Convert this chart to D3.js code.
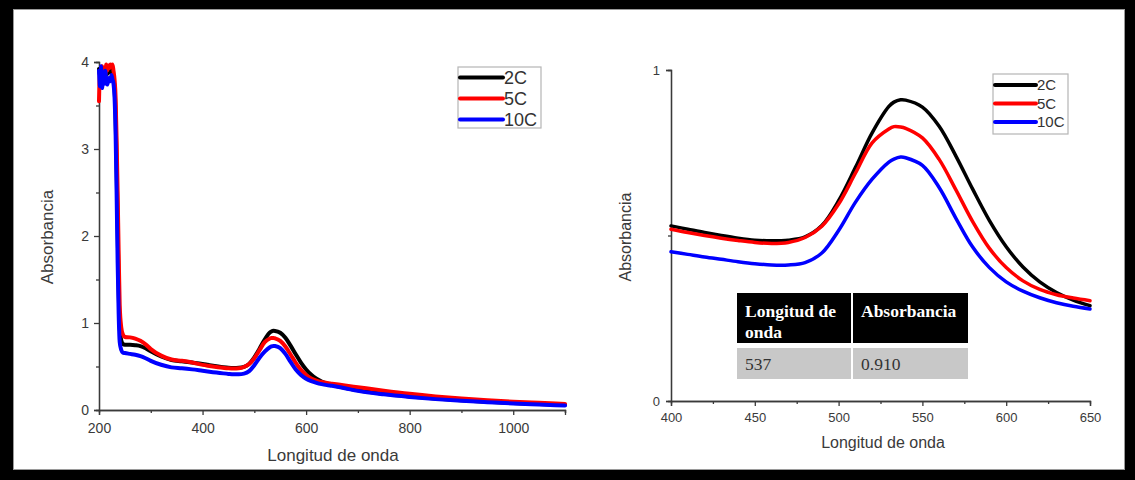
<!DOCTYPE html>
<html>
<head>
<meta charset="utf-8">
<script src="https://cdn.jsdelivr.net/npm/d3@7"></script>
<style>
  html, body { margin: 0; padding: 0; background: #000; }
  svg { display: block; }
</style>
</head>
<body>
<svg id="fig" width="1135" height="480"></svg>
<script>
// UV-Vis absorption spectra of the three samples
const wavelengths = [
  200, 202, 204, 206, 208, 210, 212, 214, 216, 218, 220, 222, 224, 226, 228, 230,
  232, 234, 236, 238, 240, 243, 246, 250, 260, 270, 280, 290, 300, 320, 340, 360, 380,
  400, 410, 420, 430, 440, 450, 460, 470, 480, 490, 500, 510, 520, 530, 533, 537, 540,
  550, 560, 570, 580, 590, 600, 610, 620, 630, 640, 650,
  675, 700, 750, 800, 850, 900, 950, 1000, 1050, 1100
];
const abs2C = [
  3.92, 3.85, 3.90, 3.82, 3.88, 3.90, 3.84, 3.90, 3.86, 3.92, 3.88, 3.90, 3.93, 3.85, 3.80, 3.70,
  3.40, 2.80, 2.10, 1.40, 0.95, 0.80, 0.76, 0.75, 0.75, 0.745, 0.735, 0.71, 0.675, 0.615, 0.575, 0.56, 0.545,
  0.529, 0.519, 0.509, 0.500, 0.492, 0.486, 0.484, 0.486, 0.496, 0.530, 0.605, 0.705, 0.810, 0.890, 0.903, 0.910, 0.909,
  0.888, 0.830, 0.740, 0.640, 0.545, 0.466, 0.405, 0.360, 0.328, 0.305, 0.288,
  0.255, 0.226, 0.186, 0.156, 0.131, 0.111, 0.095, 0.080, 0.069, 0.058
];
const abs5C = [
  3.55, 3.90, 3.75, 3.95, 3.80, 3.92, 3.85, 3.97, 3.90, 3.96, 3.93, 3.97, 3.95, 3.97, 3.90, 3.80,
  3.60, 3.10, 2.50, 1.80, 1.20, 0.95, 0.87, 0.84, 0.835, 0.82, 0.795, 0.755, 0.70, 0.625, 0.58, 0.565, 0.545,
  0.519, 0.509, 0.500, 0.492, 0.485, 0.479, 0.476, 0.479, 0.494, 0.528, 0.595, 0.688, 0.780, 0.822, 0.829, 0.828, 0.824,
  0.795, 0.730, 0.638, 0.542, 0.461, 0.403, 0.363, 0.337, 0.321, 0.311, 0.303,
  0.282, 0.262, 0.222, 0.186, 0.156, 0.131, 0.111, 0.095, 0.082, 0.070
];
const abs10C = [
  3.90, 3.72, 3.95, 3.70, 3.85, 3.75, 3.90, 3.78, 3.74, 3.80, 3.82, 3.78, 3.85, 3.80, 3.75, 3.60,
  3.20, 2.50, 1.70, 1.10, 0.78, 0.69, 0.66, 0.655, 0.645, 0.635, 0.62, 0.595, 0.565, 0.52, 0.49, 0.48, 0.467,
  0.451, 0.443, 0.435, 0.428, 0.421, 0.415, 0.411, 0.411, 0.418, 0.447, 0.515, 0.600, 0.670, 0.722, 0.731, 0.737, 0.735,
  0.712, 0.645, 0.552, 0.465, 0.403, 0.360, 0.332, 0.312, 0.297, 0.286, 0.278,
  0.25, 0.22, 0.18, 0.15, 0.125, 0.105, 0.09, 0.075, 0.063, 0.052
];
const seriesNames = ["2C", "5C", "10C"];
const seriesColors = ["#000000", "#ff0000", "#0000ff"];

// Tick values
const fullMajorX = [200, 400, 600, 800, 1000];
const fullMinorX = [300, 500, 700, 900, 1100];
const fullMajorY = [0, 1, 2, 3, 4];
const fullMinorY = [0.5, 1.5, 2.5, 3.5];
const zoomMajorX = [400, 450, 500, 550, 600, 650];
const zoomMinorX = [425, 475, 525, 575, 625];
const zoomMajorY = [0, 1];
const zoomMinorY = [0.5];

// Peak table
const tableHeader = ["Longitud de|onda", "Absorbancia"];
const peakWavelength = 537;
const peakAbsorbance = 0.910;

const xTitle = "Longitud de onda";
const yTitle = "Absorbancia";

const series = seriesNames.map((name, i) => ({
  name,
  color: seriesColors[i],
  values: wavelengths.map((w, j) => ({ w, a: [abs2C, abs5C, abs10C][i][j] }))
}));

const svg = d3.select("#fig");
const sans = "'Liberation Sans', Arial, sans-serif";
const serif = "'Liberation Serif', 'Times New Roman', serif";
const axisColor = "#3a3a3a";

// white panel inside the black frame
svg.append("rect")
  .attr("x", 13.5).attr("y", 9.5).attr("width", 1111).attr("height", 460)
  .attr("fill", "#fff").attr("stroke", "#9a9a9a").attr("stroke-width", 1);

function drawPanel(opt) {
  const g = svg.append("g");
  const x = d3.scaleLinear().domain(opt.xDomain).range(opt.xRange);
  const y = d3.scaleLinear().domain(opt.yDomain).range(opt.yRange);

  const styleAxis = sel => {
    sel.select(".domain").attr("stroke", axisColor).attr("stroke-width", 1.3);
    sel.selectAll(".tick line").attr("stroke", axisColor).attr("stroke-width", 1.3);
    sel.selectAll("text").attr("fill", axisColor).attr("font-family", sans)
      .attr("font-size", opt.tickFont);
  };

  // minor ticks
  g.append("g").attr("transform", `translate(0,${opt.yRange[0]})`)
    .call(d3.axisBottom(x).tickValues(opt.minorX).tickSize(3).tickFormat(""))
    .call(styleAxis);
  g.append("g").attr("transform", `translate(${opt.xRange[0]},0)`)
    .call(d3.axisLeft(y).tickValues(opt.minorY).tickSize(3).tickFormat(""))
    .call(styleAxis);
  // major ticks
  g.append("g").attr("transform", `translate(0,${opt.yRange[0]})`)
    .call(d3.axisBottom(x).tickValues(opt.majorX).tickSize(5).tickPadding(opt.xPad).tickFormat(d3.format("d")))
    .call(styleAxis);
  g.append("g").attr("transform", `translate(${opt.xRange[0]},0)`)
    .call(d3.axisLeft(y).tickValues(opt.majorY).tickSize(5).tickPadding(opt.yPad).tickFormat(d3.format("d")))
    .call(styleAxis);

  // axis titles
  g.append("text")
    .attr("x", opt.xTitlePos[0]).attr("y", opt.xTitlePos[1])
    .attr("text-anchor", "middle").attr("font-family", sans)
    .attr("font-size", opt.titleFont).attr("fill", axisColor).text(xTitle);
  g.append("text")
    .attr("transform", `translate(${opt.yTitlePos[0]},${opt.yTitlePos[1]}) rotate(-90)`)
    .attr("text-anchor", "middle").attr("font-family", sans)
    .attr("font-size", opt.titleFont).attr("fill", axisColor).text(yTitle);

  // spectra
  const line = d3.line().x(d => x(d.w)).y(d => y(d.a)).curve(opt.curve);
  series.forEach(s => {
    const vals = s.values.filter(d => d.w >= opt.xDomain[0] && d.w <= opt.xDomain[1]);
    g.append("path").datum(vals)
      .attr("d", line).attr("fill", "none")
      .attr("stroke", s.color).attr("stroke-width", opt.lineWidth)
      .attr("stroke-linejoin", "round").attr("stroke-linecap", "round");
  });

  // legend
  const L = opt.legend;
  g.append("rect").attr("x", L.x).attr("y", L.y).attr("width", L.w).attr("height", L.h)
    .attr("fill", "#fff").attr("stroke", "#b5b5b5").attr("stroke-width", 1.2);
  series.forEach((s, i) => {
    const yy = L.y + L.first + i * L.step;
    g.append("line").attr("x1", L.x + 2).attr("x2", L.x + 2 + L.len)
      .attr("y1", yy).attr("y2", yy)
      .attr("stroke", s.color).attr("stroke-width", 4).attr("stroke-linecap", "round");
    g.append("text").attr("x", L.x + 3 + L.len).attr("y", yy)
      .attr("dy", "0.36em").attr("font-family", sans).attr("font-size", L.font)
      .attr("fill", "#333").text(s.name);
  });
  return { g, x, y };
}

drawPanel({
  xDomain: [200, 1100], xRange: [99, 565],
  yDomain: [0, 4], yRange: [410, 62],
  majorX: fullMajorX, minorX: fullMinorX, majorY: fullMajorY, minorY: fullMinorY,
  tickFont: 14, xPad: 8, yPad: 5, titleFont: 17,
  xTitlePos: [333, 461], yTitlePos: [53, 237],
  lineWidth: 4, curve: d3.curveMonotoneX,
  legend: { x: 458, y: 67, w: 83, h: 61, first: 10.5, step: 21, len: 43, font: 18 }
});

drawPanel({
  xDomain: [400, 650], xRange: [671, 1090],
  yDomain: [0, 1], yRange: [401, 70],
  majorX: zoomMajorX, minorX: zoomMinorX, majorY: zoomMajorY, minorY: zoomMinorY,
  tickFont: 13, xPad: 7, yPad: 6, titleFont: 16,
  xTitlePos: [883, 448], yTitlePos: [631, 237],
  lineWidth: 3.5, curve: d3.curveCatmullRom.alpha(0.5),
  legend: { x: 993, y: 74, w: 75, h: 60, first: 11, step: 18.5, len: 41, font: 15 }
});

// peak table
const tbl = svg.append("g").attr("font-family", serif);
const colX = [737, 853];
const colW = [114, 115];
tableHeader.forEach((h, i) => {
  tbl.append("rect").attr("x", colX[i]).attr("y", 293).attr("width", colW[i]).attr("height", 50)
    .attr("fill", "#000");
  const t = tbl.append("text").attr("x", colX[i] + 8).attr("y", 317)
    .attr("font-size", 17.5).attr("font-weight", "bold").attr("fill", "#fff");
  h.split("|").forEach((part, k) => {
    t.append("tspan").attr("x", colX[i] + 8).attr("dy", k === 0 ? 0 : 21).text(part);
  });
});
[String(peakWavelength), d3.format(".3f")(peakAbsorbance)].forEach((v, i) => {
  tbl.append("rect").attr("x", colX[i]).attr("y", 348).attr("width", colW[i]).attr("height", 31)
    .attr("fill", "#c8c8c8");
  tbl.append("text").attr("x", colX[i] + 8).attr("y", 370)
    .attr("font-size", 17.5).attr("fill", "#333").text(v);
});
</script>
</body>
</html>
